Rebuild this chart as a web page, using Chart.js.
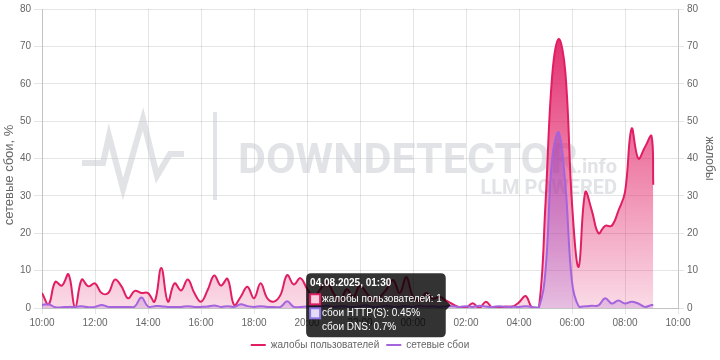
<!DOCTYPE html>
<html><head><meta charset="utf-8">
<script src="https://cdn.jsdelivr.net/npm/chart.js@4.4.0/dist/chart.umd.min.js"></script>
<style>html,body{margin:0;padding:0;background:#fff;}canvas{display:block;}</style>
</head><body>
<canvas id="c" width="720" height="360"></canvas>
<script>
const times = ['10:00','10:15','10:30','10:45','11:00','11:15','11:30','11:45','12:00','12:15','12:30','12:45','13:00','13:15','13:30','13:45',
'14:00','14:15','14:30','14:45','15:00','15:15','15:30','15:45','16:00','16:15','16:30','16:45','17:00','17:15','17:30','17:45',
'18:00','18:15','18:30','18:45','19:00','19:15','19:30','19:45','20:00','20:15','20:30','20:45','21:00','21:15','21:30','21:45',
'22:00','22:15','22:30','22:45','23:00','23:15','23:30','23:45','00:00','00:15','00:30','00:45','01:00','01:15','01:30','01:45',
'02:00','02:15','02:30','02:45','03:00','03:15','03:30','03:45','04:00','04:15','04:30','04:45','05:00','05:15','05:30','05:45',
'06:00','06:15','06:30','06:45','07:00','07:15','07:30','07:45','08:00','08:15','08:30','08:45','09:00','09:04'];
const complaints = [4,1,7,6,9,0,7.6,5.8,6.6,4,4,7.6,5.8,2.6,4.6,4,
4,1.7,10.7,1.7,6.6,4.7,7.6,4,1.7,4.8,8.7,6,7.8,0.8,3,5.7,
2.6,6.6,2.6,1.7,3.5,8.8,6.3,8,5.2,3,5,7,4,2,5,3,
6,4,2,3,5,7.5,4,8.3,3,2,4,2.5,3,2,1,0.2,
0,1.3,0,1.7,0,0,0.4,0.4,1.5,3.2,0,0,28,62,72,63,
28,11,31,26,20,22,22,26,31,48,40,43,46,33];
const network = [0.8,1,0.2,0.2,0.3,0.3,0.5,0.2,0.3,0.8,0.3,0.3,0.3,0.3,0.4,2.8,
0.4,0.5,0.5,0.3,0.3,0.3,0.5,0.3,0.3,0.4,0.7,0.3,0.5,0.3,1,0.5,
0.3,0.5,0.3,0.3,0.3,1.8,0.3,0.3,0.4,0.3,0.4,0.6,0.3,0.5,0.4,0.3,
0.5,0.7,0.3,0.4,0.6,0.3,0.4,0.5,0.3,0.6,0.4,0.5,0.3,0.5,0.45,0.3,
0.5,0.3,0.6,0.4,0.3,0.5,0.3,0.4,0.3,0.5,0.3,0.2,10,40,47,33,
7,0.5,0.5,0.6,0.7,2.6,1.2,2,1.2,1.7,1.2,0.3,0.8,0.8];
const xTickLabels = ['10:00','12:00','14:00','16:00','18:00','20:00','22:00','00:00','02:00','04:00','06:00','08:00','10:00'];
const seriesNames = ['жалобы пользователей','сетевые сбои'];
const tooltipNames = ['жалобы пользователей','сбои HTTP(S)','сбои DNS'];
const axisTitleLeft = 'сетевые сбои, %';
const axisTitleRight = 'жалобы';
const tooltipDate = '04.08.2025';
const tooltipTime = '01:30';
const dnsFailures = 0.7;
const watermarkTexts = ['DOWNDETECTOR','.info','LLM POWERED'];

const FONT = "Arial, 'Liberation Sans', Helvetica, sans-serif";
const PINK = 'rgb(225,30,100)';
const PURPLE = 'rgb(165,100,222)';

function toMinutes(t){const [h,m]=t.split(':').map(Number);let v=h*60+m-600;if(v<0)v+=1440;return v;}
const pinkPts = times.map((t,i)=>({x:toMinutes(t),y:complaints[i]}));
const purplePts = times.map((t,i)=>({x:toMinutes(t),y:network[i]}));

function grad(ctx, rgb, a0, a1){
  const ca = ctx.chart.chartArea; if(!ca) return `rgba(${rgb},${a0})`;
  const g = ctx.chart.ctx.createLinearGradient(0, ca.bottom, 0, ca.top);
  g.addColorStop(0, `rgba(${rgb},${a0})`); g.addColorStop(1, `rgba(${rgb},${a1})`);
  return g;
}

const watermark = {
  id:'watermark',
  beforeDatasetsDraw(chart){
    const ctx = chart.ctx; ctx.save();
    const col = 'rgba(195,200,207,0.5)';
    ctx.strokeStyle = col; ctx.fillStyle = col;
    ctx.lineWidth = 6; ctx.lineJoin = 'miter';
    ctx.beginPath();
    ctx.moveTo(82,163); ctx.lineTo(103,163); ctx.lineTo(109,136); ctx.lineTo(123,189);
    ctx.lineTo(143,119); ctx.lineTo(157,176); ctx.lineTo(170,154); ctx.lineTo(184,154);
    ctx.stroke();
    ctx.fillRect(213,112,4,88);
    ctx.textBaseline = 'alphabetic';
    ctx.font = "bold 43px Roboto, Arial, sans-serif";
    ctx.textAlign = 'left';
    ctx.fillText(watermarkTexts[0], 238, 173);
    ctx.font = "bold 20px Roboto, Arial, sans-serif";
    ctx.textAlign = 'right';
    ctx.fillText(watermarkTexts[1], 617, 173);
    ctx.fillText(watermarkTexts[2], 617, 194);
    ctx.restore();
  }
};

// left axis title, drawn as text slightly below the chart-area centre as in the reference
const leftTitle = {
  id:'leftTitle',
  afterDraw(chart){
    const ctx = chart.ctx, ca = chart.chartArea;
    ctx.save();
    ctx.translate(9.5, ca.top + (ca.bottom - ca.top) * 0.555);
    ctx.rotate(-Math.PI/2);
    ctx.textAlign = 'center'; ctx.textBaseline = 'middle';
    ctx.font = "13px " + FONT; ctx.fillStyle = '#666';
    ctx.fillText(axisTitleLeft, 0, 0);
    ctx.restore();
  }
};

const tickFont = {family:FONT,size:10};
const chart = new Chart(document.getElementById('c'), {
  type:'line',
  data:{datasets:[
    {label:seriesNames[0], data:pinkPts, yAxisID:'y1', order:2,
     borderColor:PINK, borderWidth:2, pointRadius:0, pointHoverRadius:0, tension:0.4,
     fill:'origin', backgroundColor:(c)=>grad(c,'225,30,100',0.16,1.0)},
    {label:seriesNames[1], data:purplePts, yAxisID:'y', order:1,
     borderColor:PURPLE, borderWidth:2, pointRadius:0, pointHoverRadius:0, tension:0.4,
     fill:'origin', backgroundColor:(c)=>grad(c,'150,75,205',0.2,0.75)}
  ]},
  options:{
    responsive:false, animation:false,
    layout:{padding:{top:2,left:0,right:0,bottom:0}},
    font:{family:FONT},
    interaction:{mode:'index', intersect:false},
    scales:{
      x:{type:'linear', min:0, max:1440,
         ticks:{stepSize:120, autoSkip:false, maxRotation:0, color:'#666', font:tickFont, padding:3.5,
                callback:(v,i)=>xTickLabels[i]},
         grid:{color:'rgba(0,0,0,0.1)', tickLength:6},
         border:{color:'rgba(0,0,0,0.15)'}},
      y:{position:'left', min:0, max:80,
         ticks:{stepSize:10, color:'#666', font:tickFont, padding:3},
         grid:{color:'rgba(0,0,0,0.1)', tickLength:8},
         border:{color:'rgba(0,0,0,0.15)'},
         title:{display:false, text:axisTitleLeft},
         afterFit:(s)=>{s.width = 42;}},
      y1:{position:'right', min:0, max:80,
         ticks:{stepSize:10, color:'#666', font:tickFont, padding:3},
         grid:{drawOnChartArea:false, color:'rgba(0,0,0,0.1)', tickLength:6},
         border:{color:'rgba(0,0,0,0.15)'},
         title:{display:true, text:axisTitleRight, color:'#666', font:{family:FONT,size:12}, padding:{top:3,bottom:1}},
         afterFit:(s)=>{s.width = 42;}}
    },
    plugins:{
      legend:{position:'bottom',
        labels:{usePointStyle:true, pointStyle:'line', pointStyleWidth:15, color:'#666',
                font:{family:FONT,size:10}, padding:7,
                sort:(a,b)=>a.datasetIndex-b.datasetIndex}},
      tooltip:{enabled:true, mode:'index', intersect:false, position:'average',
        backgroundColor:'rgba(0,0,0,0.8)',
        titleFont:{family:FONT,size:10,weight:'bold'},
        bodyFont:{family:FONT,size:10},
        titleColor:'#fff', bodyColor:'#fff',
        padding:{top:4,bottom:4,left:4,right:4},
        titleMarginBottom:4, bodySpacing:2,
        boxWidth:10, boxHeight:10, cornerRadius:5, caretSize:5, caretPadding:2,
        itemSort:(a,b)=>a.datasetIndex-b.datasetIndex,
        callbacks:{
          title:(items)=>tooltipDate+', '+times[items[0].dataIndex],
          label:(item)=>item.datasetIndex===0 ? tooltipNames[0]+': '+complaints[item.dataIndex]
                                           : tooltipNames[1]+': '+network[item.dataIndex]+'%',
          afterLabel:(item)=>item.datasetIndex===1 ? tooltipNames[2]+': '+dnsFailures+'%' : '',
          labelColor:(item)=>item.datasetIndex===0
            ? {borderColor:PINK, backgroundColor:'rgba(225,30,100,0.22)', borderWidth:2}
            : {borderColor:'rgb(140,115,225)', backgroundColor:'rgba(140,115,225,0.25)', borderWidth:2}
        }}
    }
  },
  plugins:[watermark, leftTitle]
});

const idx = times.indexOf(tooltipTime);
const active = [{datasetIndex:0,index:idx},{datasetIndex:1,index:idx}];
const px = chart.scales.x.getPixelForValue(pinkPts[idx].x);
const py = chart.scales.y.getPixelForValue(complaints[idx]);
chart.tooltip.setActiveElements(active,{x:px,y:py});
chart.update();
</script>
</body></html>
